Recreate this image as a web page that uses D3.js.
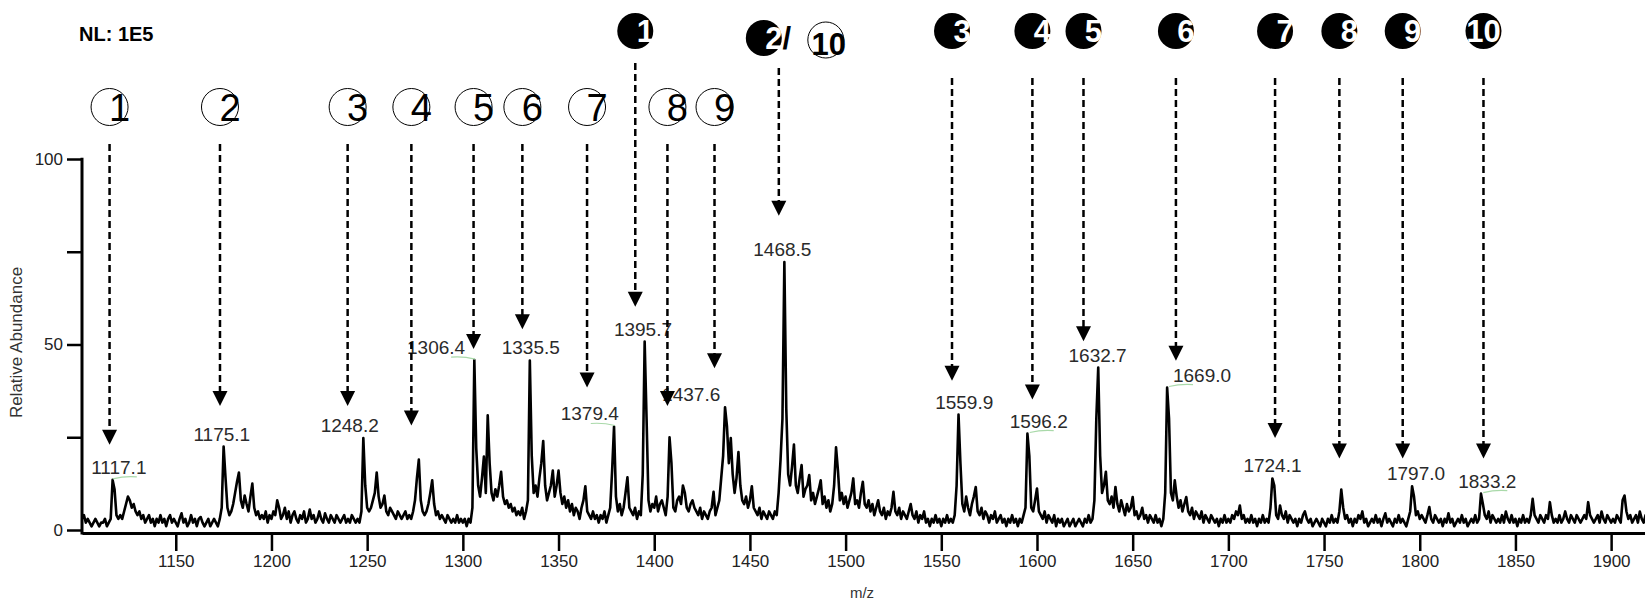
<!DOCTYPE html>
<html>
<head>
<meta charset="utf-8">
<script src="https://cdn.jsdelivr.net/npm/d3@7/dist/d3.min.js"></script>
<style>
  body { margin: 0; background: #fff; }
  svg { display: block; font-family: "Liberation Sans", Arial, sans-serif; }
</style>
</head>
<body>
<script>
// relative abundance (%), one value per m/z unit starting at mzStart
var mzStart = 1101;
var abundance = [
  3, 4, 2, 3, 2, 1, 2, 3, 2, 1,
  2, 2, 3, 1, 2, 3, 13.5, 11, 4, 3,
  4, 3, 5, 7, 9, 8, 6, 7, 5, 4,
  5, 3, 4, 2, 3, 4, 2, 3, 1, 3,
  2, 4, 2, 3, 1, 3, 4, 2, 3, 2,
  1, 3, 4.5, 2, 3, 1, 2, 4, 2, 3,
  1, 3, 3.5, 2, 1, 2, 3, 1, 2, 3,
  2, 1, 3, 6, 22.5, 14, 6, 4, 5, 7,
  10, 13, 15.5, 8, 6, 9.3, 7, 5, 9, 12.5,
  6, 4, 5, 3, 4, 3, 5, 2, 4, 3,
  5, 4, 8, 6, 3, 4, 6, 3, 5, 2,
  4, 5, 3, 2, 4, 3, 5, 2, 3, 5.5,
  3, 4, 2, 3, 5, 3, 2, 4.5, 3, 2,
  4, 3, 2, 4, 3, 2, 3, 4, 2, 3,
  2, 4, 3, 2, 3, 2, 5, 24.8, 12, 6,
  5, 6, 8, 10, 15.5, 9, 6, 7, 9.3, 5,
  4, 6, 5, 4, 3, 5, 4, 3, 4, 5,
  3, 4, 3, 5, 8, 14, 19, 8, 5, 4,
  5, 7, 10, 13.4, 7, 4, 5, 3, 4, 3,
  2, 4, 3, 2, 3, 2, 4, 2, 3, 2,
  3, 1, 3, 2, 6, 45.8, 22, 12, 9, 14,
  19.8, 10, 30.9, 18, 10, 8, 11, 9, 12, 15.7,
  9, 7, 8, 6, 7, 5, 6, 4, 5, 4,
  6, 3, 5, 8, 45.7, 20, 10, 12, 9, 14,
  18, 24, 12, 8, 10, 12, 16, 9, 12, 16,
  10, 7, 9, 6, 8, 5, 7, 4, 6, 5,
  3, 6, 8, 11.8, 5, 4, 3, 5, 3, 4,
  2, 4, 3, 5, 2, 4, 6, 16, 27.9, 9,
  5, 7, 4, 6, 10, 14.2, 6, 5, 4, 6,
  3, 5, 4, 15, 50.8, 30, 8, 5, 7, 6,
  9, 5, 7, 8, 6, 4, 9, 25, 18, 6,
  5, 8, 9, 7, 12, 10, 6, 5, 7, 8,
  6, 5, 4, 6, 3, 5, 4, 3, 5, 6,
  10.3, 4, 6, 8, 14, 20, 33.1, 28, 18, 24.8,
  15, 10, 14, 21, 12, 8, 7, 9, 6, 8,
  11.8, 6, 5, 4, 6, 3, 5, 4, 3, 5,
  4, 3, 5, 4, 10, 18.9, 30, 72.2, 32.7, 15,
  12, 17, 23, 12, 10, 14, 17.5, 9, 11, 12,
  14.8, 8, 10, 7, 9, 11, 13.4, 7, 9, 6,
  8, 5, 7, 12, 22.3, 16, 8, 10, 7, 9,
  6, 8, 10, 13.9, 7, 8, 6, 10, 13, 7,
  6, 8, 5, 7, 4, 6, 8, 5, 4, 6,
  3, 5, 4, 6, 10.3, 5, 4, 6, 3, 5,
  4, 3, 5, 7, 4, 3, 5, 2, 4, 3,
  5, 2, 3, 1, 3, 2, 4, 2, 3, 1,
  3, 2, 4, 2, 3, 2, 4, 12, 31.1, 18,
  7, 5, 9, 6, 4, 7, 9, 11.6, 5, 4,
  6, 3, 5, 4, 2, 4, 3, 5, 2, 3,
  4, 2, 3, 1, 3, 2, 4, 2, 3, 1,
  3, 2, 4, 6, 26, 20, 6, 5, 8, 11.2,
  5, 4, 3, 5, 2, 4, 3, 2, 4, 1,
  3, 2, 3, 1, 2, 3, 1, 2, 3, 1,
  2, 3, 2, 1, 3, 2, 4, 2, 3, 8,
  30, 43.8, 20, 10, 12, 15.7, 8, 7, 9, 6,
  11.6, 7, 5, 8, 6, 4, 7, 5, 6, 8.9,
  4, 5, 3, 4, 6, 3, 4, 2, 4, 3,
  2, 4, 2, 3, 1, 3, 10, 38.4, 30, 10,
  8, 13.4, 9, 6, 8, 5, 7, 8.9, 5, 4,
  6, 3, 5, 4, 3, 5, 2, 4, 3, 2,
  4, 3, 2, 3, 1, 3, 2, 4, 2, 3,
  2, 4, 3, 5, 4, 6.6, 3, 4, 2, 3,
  2, 4, 2, 3, 1, 3, 2, 4, 2, 3,
  2, 6, 13.9, 12, 4, 3, 6.6, 4, 3, 5,
  2, 4, 3, 2, 3, 1, 3, 2, 4, 5,
  3, 2, 3, 1, 2, 3, 2, 1, 3, 2,
  1, 3, 2, 4, 2, 3, 2, 5, 10.9, 6,
  3, 4, 2, 3, 1, 3, 2, 4, 3, 5,
  2, 3, 1, 2, 3, 2, 4, 2, 3, 1,
  3, 4.5, 2, 3, 2, 1, 3, 2, 4, 2,
  3, 2, 1, 3, 5, 11.8, 9, 4, 5, 3,
  4, 3, 2, 4, 6.2, 3, 2, 4, 3, 2,
  3, 1, 3, 2, 4.5, 2, 3, 1, 2, 3,
  2, 4, 2, 3, 1, 2, 3, 2, 4, 2,
  3, 9.8, 7, 4, 3, 5, 2, 4, 3, 2,
  3, 2, 4, 2, 5, 3, 2, 4, 2, 3,
  1, 3, 2, 4, 2, 3, 2, 4, 8.4, 4,
  3, 2, 4, 3, 2, 4, 3, 7.5, 4, 2,
  3, 2, 4, 2, 3, 5, 3, 2, 4, 3,
  2, 4, 3, 2, 3, 4, 3, 7.5, 4, 3,
  2, 3, 4, 2, 5, 3, 2, 4, 3, 2,
  3, 2, 4, 3, 2, 8, 9.3, 5, 3, 4,
  2, 3, 4, 2, 5, 3, 2, 4, 3, 2
];

var xTicks = [1150, 1200, 1250, 1300, 1350, 1400, 1450, 1500, 1550, 1600, 1650, 1700, 1750, 1800, 1850, 1900];
var yTicks = [0, 25, 50, 75, 100];
var yTickLabels = ["0", "", "50", "", "100"];

var peakLabels = ["1117.1", "1175.1", "1248.2", "1306.4", "1335.5", "1379.4", "1395.7", "1437.6",
                  "1468.5", "1559.9", "1596.2", "1632.7", "1669.0", "1724.1", "1797.0", "1833.2"];
var peakMz = [1117.1, 1175.1, 1248.2, 1306.4, 1335.5, 1379.4, 1395.7, 1437.6,
              1468.5, 1559.9, 1596.2, 1632.7, 1669.0, 1724.1, 1797.0, 1833.2];
var greenMarked = ["1117.1", "1306.4", "1379.4", "1596.2", "1669.0", "1833.2"];

// open-circle series (top row of arrows)
var openNumbers = ["1", "2", "3", "4", "5", "6", "7", "8", "9"];
var openMz = [1115.4, 1173.1, 1239.8, 1273.1, 1305.6, 1331.1, 1364.9, 1406.9, 1431.5];
var openTip = [23.0, 33.4, 33.4, 28.2, 48.8, 54.1, 38.4, 33.4, 43.6];

// filled-circle series
var filledNumbers = ["1", "2", "3", "4", "5", "6", "7", "8", "9", "10"];
var filledMz = [1390.1, 1465.1, 1555.6, 1597.6, 1624.3, 1672.6, 1724.4, 1758, 1791.1, 1833.3];
var filledTip = [60.2, 84.7, 40.2, 35.2, 50.9, 45.6, 24.8, 19.3, 19.3, 19.3];

// layout
var W = 1645, H = 603;
var left = 82, xAxisY = 533;
var labelDx = [6, -2, -14, -39, 0, -25, -3, -35, -3, 4, 9, -2, 33, -2, 2, 4];

var x = d3.scaleLinear().domain([1101, 1917.7]).range([left, W]);
var y = d3.scaleLinear().domain([0, 100]).range([530, 159]);

var svg = d3.select("body").append("svg")
    .attr("width", W)
    .attr("height", H);

svg.append("defs").append("clipPath")
    .attr("id", "plotclip")
  .append("rect")
    .attr("x", left)
    .attr("y", 0)
    .attr("width", W - left)
    .attr("height", H);

// x axis
var gx = svg.append("g")
    .attr("transform", "translate(0," + xAxisY + ")")
    .call(d3.axisBottom(x).tickValues(xTicks).tickFormat(d3.format("d"))
      .tickSize(18).tickSizeOuter(0).tickPadding(4));
gx.attr("font-family", null).attr("font-size", 17);
gx.select(".domain").attr("stroke-width", 3);
gx.selectAll(".tick line").attr("stroke-width", 2.5);
gx.selectAll(".tick text").attr("fill", "#222");

// y axis
var gy = svg.append("g")
    .attr("transform", "translate(" + left + ",0)")
    .call(d3.axisLeft(y).tickValues(yTicks).tickSize(15).tickSizeOuter(0).tickPadding(4)
      .tickFormat(function(d, i) { return yTickLabels[i]; }));
gy.attr("font-family", null).attr("font-size", 17);
gy.select(".domain").remove();
gy.selectAll(".tick line").attr("stroke-width", 2.5);
gy.selectAll(".tick text").attr("fill", "#222");
gy.append("line")
    .attr("x1", 0).attr("x2", 0)
    .attr("y1", y(100) - 1.2).attr("y2", xAxisY + 1.5)
    .attr("stroke", "#000")
    .attr("stroke-width", 3);

svg.append("text")
    .attr("transform", "translate(22," + (y(50) - 2) + ") rotate(-90)")
    .attr("text-anchor", "middle")
    .attr("font-size", 17)
    .attr("fill", "#333")
    .text("Relative Abundance");

svg.append("text")
    .attr("x", 862)
    .attr("y", 598)
    .attr("text-anchor", "middle")
    .attr("font-size", 15)
    .attr("fill", "#333")
    .text("m/z");

// spectrum trace
var line = d3.line()
    .x(function(d, i) { return x(mzStart + i); })
    .y(function(d) { return y(d); });

svg.append("path")
    .datum(abundance)
    .attr("clip-path", "url(#plotclip)")
    .attr("fill", "none")
    .attr("stroke", "#000")
    .attr("stroke-width", 2.6)
    .attr("stroke-linejoin", "round")
    .attr("d", line);

function peakTop(mz) {
  var i = Math.round(mz) - mzStart;
  return d3.max(abundance.slice(i - 1, i + 2));
}

// peak m/z labels
var labels = svg.append("g");
peakLabels.forEach(function(t, i) {
  var px = x(peakMz[i]);
  var py = y(peakTop(peakMz[i]));
  if (greenMarked.indexOf(t) >= 0) {
    var s = labelDx[i] < 0 ? -1 : 1;
    labels.append("path")
      .attr("d", "M" + px + "," + (py - 1) + " Q" + (px + s * 12) + "," + (py - 4) + " " + (px + s * 24) + "," + (py - 3))
      .attr("fill", "none")
      .attr("stroke", "#a9d9a9")
      .attr("stroke-width", 1.2);
  }
  labels.append("text")
    .attr("x", px + labelDx[i])
    .attr("y", py - 6)
    .attr("text-anchor", "middle")
    .attr("font-size", 19)
    .attr("fill", "#2a2a2a")
    .text(t);
});

// dashed arrows
function arrow(g, ax, y0, tipY) {
  g.append("line")
    .attr("x1", ax).attr("x2", ax)
    .attr("y1", y0).attr("y2", tipY - 13)
    .attr("stroke", "#000")
    .attr("stroke-width", 2.5)
    .attr("stroke-dasharray", "7,4");
  g.append("path")
    .attr("d", "M" + (ax - 7.5) + "," + (tipY - 15) + " L" + (ax + 7.5) + "," + (tipY - 15) + " L" + ax + "," + tipY + " Z")
    .attr("fill", "#000");
}

var ann = svg.append("g");

// open circles
openNumbers.forEach(function(n, i) {
  var ax = x(openMz[i]);
  arrow(ann, ax, 144, y(openTip[i]));
  ann.append("circle")
    .attr("cx", ax).attr("cy", 107).attr("r", 18.5)
    .attr("fill", "none")
    .attr("stroke", "#000")
    .attr("stroke-width", 1);
  ann.append("text")
    .attr("x", ax + 10).attr("y", 107 + 14)
    .attr("text-anchor", "middle")
    .attr("font-size", 38)
    .attr("fill", "#000")
    .text(n);
});

// filled circles
var filledStart = [63, 68, 78, 78, 78, 78, 78, 78, 78, 78];
filledNumbers.forEach(function(n, i) {
  var ax = x(filledMz[i]);
  arrow(ann, ax, filledStart[i], y(filledTip[i]));
  var cx = ax, cy = 31;
  if (n === "2") { cx = ax - 15; cy = 38; }
  ann.append("circle")
    .attr("cx", cx).attr("cy", cy).attr("r", 18)
    .attr("fill", "#000");
  ann.append("text")
    .attr("x", cx + (n.length > 1 ? 0 : 10)).attr("y", cy + 11)
    .attr("text-anchor", "middle")
    .attr("font-size", 31)
    .attr("font-weight", "bold")
    .attr("fill", "#fff")
    .text(n);
  if (n === "2") {
    ann.append("text")
      .attr("x", ax + 8).attr("y", cy + 11)
      .attr("text-anchor", "middle")
      .attr("font-size", 31)
      .attr("font-weight", "bold")
      .attr("fill", "#000")
      .text("/");
    ann.append("circle")
      .attr("cx", ax + 47).attr("cy", 40).attr("r", 18)
      .attr("fill", "none")
      .attr("stroke", "#000")
      .attr("stroke-width", 1);
    ann.append("text")
      .attr("x", ax + 50).attr("y", 40 + 15)
      .attr("text-anchor", "middle")
      .attr("font-size", 31)
      .attr("font-weight", "bold")
      .attr("fill", "#000")
      .text("10");
  }
});

svg.append("text")
    .attr("x", 79)
    .attr("y", 41)
    .attr("font-size", 20)
    .attr("font-weight", "bold")
    .attr("fill", "#000")
    .text("NL: 1E5");
</script>
</body>
</html>
